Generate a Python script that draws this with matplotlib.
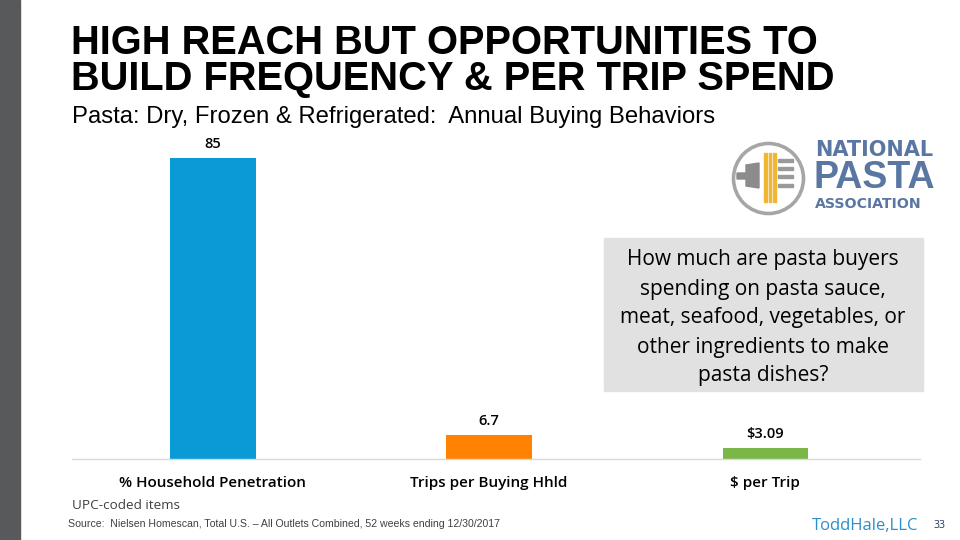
import matplotlib
matplotlib.use("Agg")
import matplotlib.pyplot as plt
from matplotlib.patches import Rectangle, Ellipse, Polygon

categories = ["% Household Penetration", "Trips per Buying Hhld", "$ per Trip"]
values = [85, 6.7, 3.09]
value_labels = ["85", "6.7", "$3.09"]
colors = ["#0a9ad6", "#ff8200", "#7ab648"]

W, H = 960, 540
fig = plt.figure(figsize=(9.6, 5.4), dpi=100)
fig.patch.set_facecolor("white")

def fx(px):
    return px / W

def fy(py):
    return 1 - py / H

# left gray strip
fig.patches.append(Rectangle((0, 0), fx(20), 1, transform=fig.transFigure,
                             color="#58595b", zorder=0))

# title
fig.text(fx(71), fy(54), "HIGH REACH BUT OPPORTUNITIES TO",
         family="Liberation Sans", weight="bold", fontsize=28.7,
         va="baseline", ha="left", color="black")
fig.text(fx(71), fy(90), "BUILD FREQUENCY & PER TRIP SPEND",
         family="Liberation Sans", weight="bold", fontsize=28.7,
         va="baseline", ha="left", color="black")
fig.text(fx(72), fy(123), "Pasta: Dry, Frozen & Refrigerated:  Annual Buying Behaviors",
         family="Liberation Sans", fontsize=17.2, va="baseline", ha="left", color="black")

# axes
ax_left, ax_right = 72, 920
ax_top, ax_bot = 140, 459
ax = fig.add_axes([fx(ax_left), fy(ax_bot), fx(ax_right - ax_left), (ax_bot - ax_top) / H])
ax.set_facecolor("none")
xs = list(range(len(categories)))
ax.bar(xs, values, width=0.31, color=colors, zorder=2)
ax.set_xlim(-0.51, 2.56)
ax.set_ylim(0, 90)
for s in ["top", "right", "left"]:
    ax.spines[s].set_visible(False)
ax.spines["bottom"].set_color("#d9d9d9")
ax.spines["bottom"].set_linewidth(1.0)
ax.set_yticks([])
ax.set_xticks(xs)
ax.set_xticklabels(categories, family="Open Sans", weight="semibold", fontsize=11)
ax.tick_params(axis="x", length=0, pad=12)
for x, v, lab in zip(xs, values, value_labels):
    ax.annotate(lab, (x, v), xytext=(0, 5), textcoords="offset points",
                ha="center", va="bottom", family="Open Sans", weight="semibold",
                fontsize=10.5, color="black")

# question box
fig.patches.append(Rectangle((fx(604), fy(391)), fx(923 - 604), (391 - 238) / H,
                             transform=fig.transFigure, color="#e1e1e1", zorder=1))
fig.text(fx(763), fy(318), "How much are pasta buyers\nspending on pasta sauce,\nmeat, seafood, vegetables, or\nother ingredients to make\npasta dishes?",
         family="Open Sans", fontsize=15, ha="center", va="center", linespacing=1.5,
         color="black", zorder=3)

# footnotes
fig.text(fx(72), fy(509), "UPC-coded items", family="Open Sans", fontsize=9.7,
         color="#404040", va="baseline")
fig.text(fx(68), fy(527), "Source:  Nielsen Homescan, Total U.S. \u2013 All Outlets Combined, 52 weeks ending 12/30/2017",
         family="Liberation Sans", fontsize=7.6, color="#404040", va="baseline")
fig.text(fx(812), fy(530), "ToddHale,LLC", family="Open Sans", fontsize=12,
         color="#2a8fcb", va="baseline")
fig.text(fx(934), fy(528), "33", family="Open Sans", fontsize=7.5, color="#1f3864", va="baseline")

# logo (decorative)
logo_col = "#5a77a3"
cx, cy, r = 768.5, 178.5, 35
fig.patches.append(Ellipse((fx(cx), fy(cy)), 2 * r / W, 2 * r / H, transform=fig.transFigure,
                           fill=False, ec="#a6a6a6", lw=2.6))
fork = [(737, 173), (746, 173), (746, 165), (759, 163), (759, 188), (746, 186),
        (746, 179), (737, 179)]
fig.patches.append(Polygon([(fx(a), fy(b)) for a, b in fork], closed=True,
                           transform=fig.transFigure, color="#8c8c8c"))
for xx in [764, 768.5, 773]:
    fig.patches.append(Rectangle((fx(xx), fy(202)), fx(2.5), 49 / H, transform=fig.transFigure,
                                 color="#f1b632"))
for yy in [160, 168.5, 177, 185.5]:
    fig.patches.append(Rectangle((fx(778), fy(yy + 1.5)), fx(15), 3 / H, transform=fig.transFigure,
                                 color="#9a9a9a"))
fig.text(fx(815), fy(156), "NATIONAL", family="DejaVu Sans", weight="bold",
         fontsize=15, color=logo_col, va="baseline")
fig.text(fx(814), fy(188), "PASTA", family="Liberation Sans", weight="bold",
         fontsize=27, color=logo_col, va="baseline")
fig.text(fx(815), fy(208), "ASSOCIATION", family="DejaVu Sans", weight="bold",
         fontsize=10.2, color=logo_col, va="baseline")

fig.savefig("out.png", dpi=100, facecolor="white")
